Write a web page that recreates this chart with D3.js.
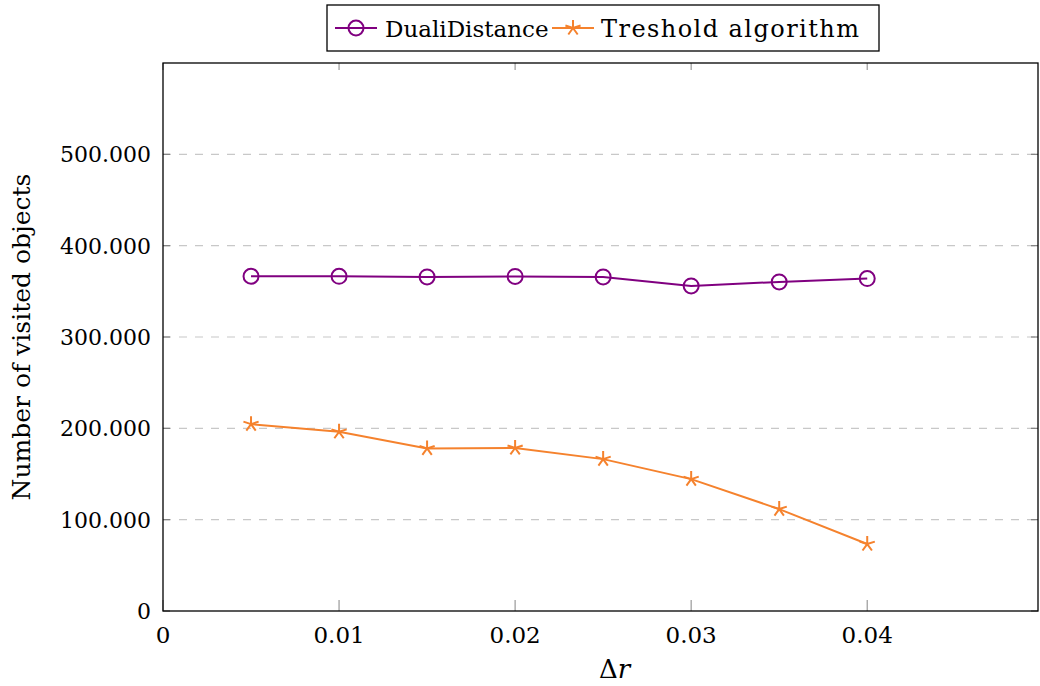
<!DOCTYPE html>
<html>
<head>
<meta charset="utf-8">
<script src="https://cdn.jsdelivr.net/npm/d3@7"></script>
<style>
  body { margin: 0; background: #fff; }
  text { font-family: "DejaVu Serif", serif; fill: #000; }
</style>
</head>
<body>
<div id="chart"></div>
<script>
// donnees
const deltaR = [0.005, 0.01, 0.015, 0.02, 0.025, 0.03, 0.035, 0.04];
const dualiDistance = [366500, 366400, 365800, 366300, 365800, 355900, 360300, 364000];
const treshold = [204600, 196200, 178000, 178500, 166300, 144400, 111600, 73300];
const xTicks = [0, 0.01, 0.02, 0.03, 0.04];
const yTicks = [0, 100000, 200000, 300000, 400000, 500000];
const seriesNames = ["DualiDistance", "Treshold algorithm"];

const W = 1040, H = 686;
const margin = { top: 63, right: 2, bottom: 75, left: 163 };
const width = W - margin.left - margin.right,
      height = H - margin.top - margin.bottom;

const svg = d3.select("#chart").append("svg")
    .attr("width", W)
    .attr("height", H);

const g = svg.append("g")
    .attr("transform", `translate(${margin.left},${margin.top})`);

const x = d3.scaleLinear().domain([0, 0.0497]).range([0, width]);
const y = d3.scaleLinear().domain([0, 600000]).range([height, 0]);

const purple = "#800080", orange = "#f5822d";

// grille horizontale en pointilles
g.selectAll(".grid").data(yTicks.filter(d => d > 0)).enter().append("line")
    .attr("x1", 0).attr("x2", width)
    .attr("y1", d => y(d)).attr("y2", d => y(d))
    .attr("stroke", "#c8c8c8")
    .attr("stroke-width", 1.2)
    .attr("stroke-dasharray", "8,8");

// petites graduations
g.selectAll(".ytickL").data(yTicks).enter().append("line")
    .attr("x1", 0).attr("x2", 7)
    .attr("y1", d => y(d)).attr("y2", d => y(d))
    .attr("stroke", "#808080").attr("stroke-width", 1.2);
g.selectAll(".ytickR").data(yTicks).enter().append("line")
    .attr("x1", width - 7).attr("x2", width)
    .attr("y1", d => y(d)).attr("y2", d => y(d))
    .attr("stroke", "#808080").attr("stroke-width", 1.2);
g.selectAll(".xtickB").data(xTicks).enter().append("line")
    .attr("x1", d => x(d)).attr("x2", d => x(d))
    .attr("y1", height - 11).attr("y2", height)
    .attr("stroke", "#999").attr("stroke-width", 1.2);
g.selectAll(".xtickT").data(xTicks).enter().append("line")
    .attr("x1", d => x(d)).attr("x2", d => x(d))
    .attr("y1", 0).attr("y2", 7)
    .attr("stroke", "#999").attr("stroke-width", 1.2);

// cadre
g.append("rect")
    .attr("width", width).attr("height", height)
    .attr("fill", "none").attr("stroke", "#000").attr("stroke-width", 1.3);

// labels des axes
const fmt = d => d === 0 ? "0" : d3.format(",")(d).replace(/,/g, ".");
g.selectAll(".ylab").data(yTicks).enter().append("text")
    .attr("x", -12).attr("y", d => y(d) + 8)
    .attr("text-anchor", "end")
    .style("font-size", "22px")
    .text(fmt);
g.selectAll(".xlab").data(xTicks).enter().append("text")
    .attr("x", d => x(d)).attr("y", height + 32)
    .attr("text-anchor", "middle")
    .style("font-size", "23px")
    .text(d => d === 0 ? "0" : String(d));

// titres des axes
svg.append("text")
    .attr("transform", `translate(30,${margin.top + height / 2}) rotate(-90)`)
    .attr("text-anchor", "middle")
    .style("font-size", "25px")
    .text("Number of visited objects");

const xt = svg.append("text")
    .attr("x", margin.left + width / 2 + 14)
    .attr("y", 678)
    .attr("text-anchor", "middle")
    .style("font-size", "26px");
xt.append("tspan").text("Δ");
xt.append("tspan").style("font-style", "italic").text("r");

// lignes
const line = d3.line().x((d, i) => x(deltaR[i])).y(d => y(d));

g.append("path").datum(dualiDistance)
    .attr("fill", "none").attr("stroke", purple).attr("stroke-width", 2)
    .attr("d", line);
g.append("path").datum(treshold)
    .attr("fill", "none").attr("stroke", orange).attr("stroke-width", 2)
    .attr("d", line);

// etoile a 5 branches facon pgfplots
function starPath(r) {
    let p = "";
    for (let k = 0; k < 5; k++) {
        const a = -Math.PI / 2 + k * 2 * Math.PI / 5;
        p += `M0,0L${r * Math.cos(a)},${r * Math.sin(a)}`;
    }
    return p;
}

g.selectAll(".circ").data(dualiDistance).enter().append("circle")
    .attr("cx", (d, i) => x(deltaR[i])).attr("cy", d => y(d))
    .attr("r", 7.5)
    .attr("fill", "none").attr("stroke", purple).attr("stroke-width", 2);

g.selectAll(".star").data(treshold).enter().append("path")
    .attr("transform", (d, i) => `translate(${x(deltaR[i])},${y(d)})`)
    .attr("d", starPath(8))
    .attr("fill", "none").attr("stroke", orange).attr("stroke-width", 2);

// legende
const leg = svg.append("g");
leg.append("rect")
    .attr("x", 327).attr("y", 5).attr("width", 552).attr("height", 46)
    .attr("fill", "#fff").attr("stroke", "#000").attr("stroke-width", 1.3);

leg.append("line").attr("x1", 335).attr("x2", 377).attr("y1", 28).attr("y2", 28)
    .attr("stroke", purple).attr("stroke-width", 2);
leg.append("circle").attr("cx", 356).attr("cy", 28).attr("r", 7.5)
    .attr("fill", "none").attr("stroke", purple).attr("stroke-width", 2);
leg.append("text").attr("x", 385).attr("y", 37)
    .style("font-size", "23px")
    .text(seriesNames[0]);

leg.append("line").attr("x1", 552).attr("x2", 594).attr("y1", 28).attr("y2", 28)
    .attr("stroke", orange).attr("stroke-width", 2);
leg.append("path").attr("transform", "translate(573,28)").attr("d", starPath(8))
    .attr("fill", "none").attr("stroke", orange).attr("stroke-width", 2);
leg.append("text").attr("x", 601).attr("y", 37)
    .style("font-size", "24px")
    .attr("textLength", 258).attr("lengthAdjust", "spacing")
    .text(seriesNames[1]);
</script>
</body>
</html>
